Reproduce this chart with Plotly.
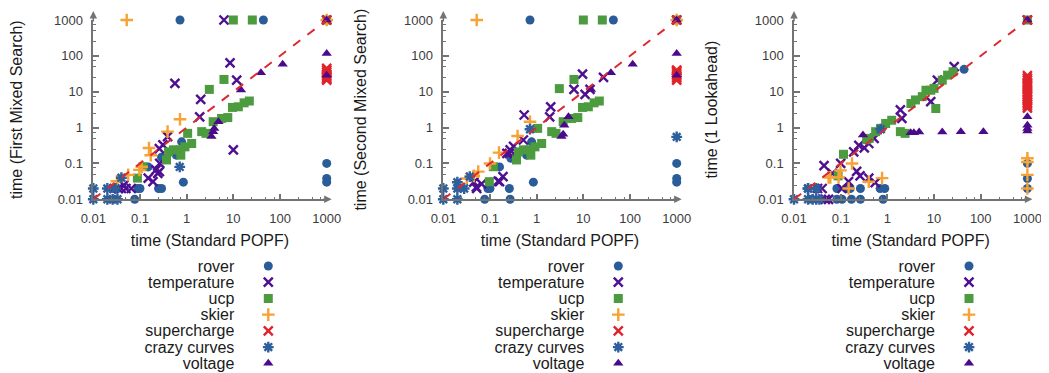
import plotly.graph_objects as go

# ---------------- data ----------------
categories = ["rover", "temperature", "ucp", "skier", "supercharge", "crazy curves", "voltage"]
y_titles = ["time (First Mixed Search)", "time (Second Mixed Search)", "time (1 Lookahead)"]
x_title = "time (Standard POPF)"
tick_vals = [0.01, 0.1, 1, 10, 100, 1000]
tick_text = ["0.01", "0.1", "1", "10", "100", "1000"]
minor_vals = [m * d for d in [0.01, 0.1, 1, 10, 100] for m in (2.5, 5, 7.5)]
diag = [0.01, 1000]

# Panel 1: First Mixed Search vs Standard POPF
p1_rover_x = [0.72, 44, 1000, 1000, 1000, 0.85, 0.077, 0.09, 0.1, 0.25, 0.29, 0.15, 0.6, 0.78, 0.29]
p1_rover_y = [1000, 1000, 0.1, 0.038, 0.03, 0.03, 0.01, 0.02, 0.02, 0.02, 0.02, 0.08, 0.17, 0.4, 0.15]
p1_temp_x = [6.3, 1000, 0.56, 8.5, 11.8, 2.0, 1.9, 10, 0.39, 0.31, 0.26, 0.26, 0.24, 0.22, 0.19, 0.15, 0.265, 0.034, 0.04, 0.05, 0.065, 0.045, 0.028]
p1_temp_y = [1000, 1000, 17, 64, 21, 6.1, 2.0, 0.24, 0.56, 0.33, 0.26, 0.059, 0.053, 0.066, 0.031, 0.039, 0.1, 0.02, 0.02, 0.02, 0.02, 0.025, 0.02]
p1_ucp_x = [10, 25.5, 1000, 6.3, 3.06, 22, 17, 12.8, 9.6, 7.6, 5.6, 3.7, 2.1, 2.6, 1.05, 1.28, 0.92, 0.72, 0.52, 0.41, 0.37, 0.75, 0.088, 0.116]
p1_ucp_y = [1000, 1000, 1000, 22, 11.6, 5.5, 4.9, 3.8, 3.65, 1.9, 1.8, 1.46, 0.77, 0.69, 0.69, 0.36, 0.29, 0.24, 0.24, 0.21, 0.125, 0.17, 0.039, 0.081]
p1_skier_x = [0.052, 0.72, 0.39, 0.156, 0.17, 0.109, 0.097, 0.056, 0.032, 1000]
p1_skier_y = [1000, 1.7, 0.77, 0.27, 0.17, 0.081, 0.066, 0.048, 0.032, 1000]
p1_super_x = [1000, 1000, 1000, 1000, 1000, 1000, 1000, 1000, 1000]
p1_super_y = [21, 23, 25, 28, 31, 35, 40, 45, 1000]
p1_crazy_x = [0.01, 0.01, 0.02, 0.02, 0.026, 0.033, 0.03, 0.04, 0.71]
p1_crazy_y = [0.01, 0.02, 0.01, 0.02, 0.01, 0.01, 0.02, 0.04, 0.08]
p1_volt_x = [1000, 1000, 1000, 114, 39, 14.6, 4.8, 3.9, 3.7, 3.4]
p1_volt_y = [1000, 117, 29, 58, 34, 11.1, 1.46, 0.95, 0.77, 0.56]

# Panel 2: Second Mixed Search vs Standard POPF
p2_rover_x = [0.72, 44, 1000, 1000, 1000, 0.85, 0.077, 0.09, 0.1, 0.26, 0.27, 0.16, 0.78, 0.61, 0.28]
p2_rover_y = [1000, 1000, 0.1, 0.038, 0.03, 0.03, 0.01, 0.02, 0.02, 0.02, 0.01, 0.08, 0.4, 0.17, 0.14]
p2_temp_x = [1000, 9.6, 6.3, 10.9, 13.9, 27, 2.0, 1.9, 0.54, 0.32, 0.27, 0.23, 0.52, 0.19, 0.15, 0.052, 0.066, 0.051, 0.16, 0.26, 0.045]
p2_temp_y = [1000, 31, 11.6, 8.4, 11.6, 25, 3.8, 2.0, 2.24, 0.3, 0.24, 0.19, 0.45, 0.043, 0.032, 0.02, 0.027, 0.022, 0.031, 0.19, 0.03]
p2_ucp_x = [10, 25.5, 1000, 6.3, 3.06, 22, 17, 12.8, 9.6, 7.6, 5.6, 3.7, 2.1, 2.6, 1.05, 1.28, 0.92, 0.72, 0.52, 0.41, 0.37, 0.75, 0.097, 0.118]
p2_ucp_y = [1000, 1000, 1000, 22, 12.2, 5.5, 4.9, 3.8, 3.65, 1.9, 1.8, 1.46, 0.77, 0.69, 0.95, 0.36, 0.29, 0.24, 0.24, 0.21, 0.125, 0.17, 0.031, 0.081]
p2_skier_x = [0.052, 0.72, 0.39, 0.156, 0.1, 0.056, 0.032, 0.045, 1000]
p2_skier_y = [1000, 1.46, 0.58, 0.2, 0.1, 0.059, 0.038, 0.045, 1000]
p2_super_x = [1000, 1000, 1000, 1000, 1000, 1000, 1000, 1000]
p2_super_y = [21, 24, 27, 30, 34, 38, 40, 1000]
p2_crazy_x = [0.01, 0.01, 0.02, 0.02, 0.02, 0.028, 0.037, 0.72, 1000]
p2_crazy_y = [0.01, 0.02, 0.01, 0.02, 0.03, 0.02, 0.043, 0.9, 0.55]
p2_volt_x = [1000, 1000, 1000, 114, 39, 14.6, 4.8, 3.9, 3.7, 3.4]
p2_volt_y = [1000, 117, 29, 58, 34, 11.6, 2.0, 1.17, 0.65, 0.56]

# Panel 3: 1 Lookahead vs Standard POPF
p3_rover_x = [44, 1000, 1000, 1000, 0.083, 0.107, 0.17, 0.265, 0.81, 0.083, 0.16, 0.265, 0.7, 0.88, 0.13]
p3_rover_y = [42, 0.1, 0.038, 0.02, 0.01, 0.01, 0.01, 0.01, 0.01, 0.02, 0.02, 0.02, 0.02, 0.02, 0.02]
p3_temp_x = [1000, 27, 11.8, 8.5, 1.9, 2.05, 0.52, 0.4, 0.32, 0.245, 0.19, 0.1, 0.044, 0.066, 0.22, 0.26, 0.4, 0.55, 0.147, 0.032, 0.047, 0.055, 0.107, 0.04]
p3_temp_y = [1000, 50, 21, 5.3, 3.1, 1.8, 0.5, 0.36, 0.27, 0.32, 0.21, 0.1, 0.087, 0.053, 0.06, 0.045, 0.039, 0.029, 0.031, 0.02, 0.01, 0.01, 0.02, 0.02]
p3_ucp_x = [1000, 25.5, 19.5, 15, 10, 8.5, 6.7, 5.6, 4.0, 3.2, 10.9, 1.24, 0.92, 0.72, 0.56, 0.41, 0.36, 1.9, 2.4, 0.115, 0.088]
p3_ucp_y = [1000, 36, 29, 21, 12.4, 11, 11, 7.3, 5.9, 4.7, 3.4, 1.6, 1.3, 0.95, 0.77, 0.5, 0.46, 0.77, 0.69, 0.18, 0.045]
p3_skier_x = [0.175, 0.099, 0.055, 0.06, 0.09, 0.148, 0.4, 0.77, 1000, 1000, 1000, 1000]
p3_skier_y = [0.1, 0.064, 0.041, 0.041, 0.041, 0.02, 0.031, 0.039, 0.14, 0.11, 0.048, 0.02]
p3_super_x = [1000] * 17
p3_super_y = [3.5, 4, 4.5, 5, 6, 7, 8, 9, 10, 12, 14, 16, 18, 21, 24, 28, 1000]
p3_crazy_x = [0.01, 0.02, 0.02, 0.025, 0.03, 0.035, 0.02, 0.03, 0.72]
p3_crazy_y = [0.01, 0.01, 0.02, 0.01, 0.01, 0.01, 0.02, 0.02, 0.9]
p3_volt_x = [1000, 1000, 1000, 1000, 1000, 0.3, 3.16, 3.7, 4.8, 15, 37.5, 114]
p3_volt_y = [1000, 2.0, 1.17, 0.95, 0.8, 0.62, 0.72, 0.72, 0.75, 0.75, 0.77, 0.77]

panels = [
    [(p1_rover_x, p1_rover_y), (p1_temp_x, p1_temp_y), (p1_ucp_x, p1_ucp_y), (p1_skier_x, p1_skier_y),
     (p1_super_x, p1_super_y), (p1_crazy_x, p1_crazy_y), (p1_volt_x, p1_volt_y)],
    [(p2_rover_x, p2_rover_y), (p2_temp_x, p2_temp_y), (p2_ucp_x, p2_ucp_y), (p2_skier_x, p2_skier_y),
     (p2_super_x, p2_super_y), (p2_crazy_x, p2_crazy_y), (p2_volt_x, p2_volt_y)],
    [(p3_rover_x, p3_rover_y), (p3_temp_x, p3_temp_y), (p3_ucp_x, p3_ucp_y), (p3_skier_x, p3_skier_y),
     (p3_super_x, p3_super_y), (p3_crazy_x, p3_crazy_y), (p3_volt_x, p3_volt_y)],
]

# ---------------- styles ----------------
styles = {
    "rover":        dict(symbol="circle",      color="#2a5c99", size=9,  lw=0),
    "temperature":  dict(symbol="x-thin",      color="#4f0f91", size=9,  lw=2.4),
    "ucp":          dict(symbol="square",      color="#4d9b3f", size=9,  lw=0),
    "skier":        dict(symbol="cross-thin",  color="#f7a234", size=9,  lw=2.4),
    "supercharge":  dict(symbol="x-thin",      color="#e0232b", size=9,  lw=2.4),
    "crazy curves": dict(symbol="asterisk",    color="#2d5f9c", size=9,  lw=2.4),
    "voltage":      dict(symbol="triangle-up", color="#4b0a8c", size=9,  lw=0),
}
AX = "#737373"
FONT = "Liberation Sans, Arial, sans-serif"

# page body has an 8px default margin: lay out in page pixels minus that offset
OFF = 8
W, H = 1049 - OFF, 373 - OFF
x_starts = [93.3 - OFF, 443.3 - OFF, 794.0 - OFF]
plot_w = 233.4
y_dom = [1 - (199.3 - OFF) / H, 1 - (20 - OFF) / H]
leg_dom = [1 - (371.4 - OFF) / H, 1 - (257.9 - OFF) / H]

fig = go.Figure()


def marker_of(st):
    return dict(symbol=st["symbol"], size=st["size"], color=st["color"],
                line=dict(color=st["color"], width=st["lw"]))


for i, series in enumerate(panels):
    n = i + 1
    xa = "x" if n == 1 else f"x{n}"
    ya = "y" if n == 1 else f"y{n}"
    for name, (xs, ys) in zip(categories, series):
        fig.add_trace(go.Scatter(x=xs, y=ys, mode="markers", name=name, showlegend=False,
                                 marker=marker_of(styles[name]), cliponaxis=False,
                                 xaxis=xa, yaxis=ya))
    fig.add_trace(go.Scatter(x=diag, y=diag, mode="lines", showlegend=False, hoverinfo="skip",
                             line=dict(color="#dd2a30", width=2, dash="dash"),
                             xaxis=xa, yaxis=ya))
    # legend panel (text left, marker right)
    lx = "x" + str(n + 3)
    ly = "y" + str(n + 3)
    for name in categories:
        fig.add_trace(go.Scatter(x=[0], y=[name], mode="markers", name=name, showlegend=False,
                                 marker=marker_of(styles[name]), xaxis=lx, yaxis=ly))

    x0 = x_starts[i]
    axis_common = dict(type="log", range=[-2, 3], showline=True, linecolor=AX, linewidth=1.5,
                       ticks="inside", ticklen=6, tickwidth=1.5, tickcolor=AX,
                       tickmode="array", tickvals=tick_vals, ticktext=tick_text,
                       minor=dict(ticks="inside", ticklen=3, tickwidth=1.2, tickcolor=AX,
                                  tickmode="array", tickvals=minor_vals),
                       showgrid=False, zeroline=False, mirror=False, automargin=False,
                       tickfont=dict(family=FONT, size=13, color="#3c3c3c"),
                       fixedrange=True)
    fig.layout[("xaxis" if n == 1 else f"xaxis{n}")] = dict(
        axis_common, domain=[x0 / W, (x0 + plot_w) / W], anchor=ya, ticklabelstandoff=6,
        title=dict(text=x_title, font=dict(family=FONT, size=16, color="#1a1a1a"), standoff=10))
    fig.layout[("yaxis" if n == 1 else f"yaxis{n}")] = dict(
        axis_common, domain=y_dom, anchor=xa, ticklabelstandoff=6,
        title=dict(text=y_titles[i], font=dict(family=FONT, size=16, color="#1a1a1a"), standoff=33))

    # legend axes
    lx0 = x0 + 144.0
    fig.layout[f"xaxis{n + 3}"] = dict(domain=[lx0 / W, (lx0 + 62) / W], range=[-1, 1], visible=False,
                                       anchor=ly, fixedrange=True, automargin=False)
    fig.layout[f"yaxis{n + 3}"] = dict(domain=leg_dom, anchor=lx,
                                       type="category", categoryorder="array", categoryarray=categories,
                                       tickmode="array", tickvals=categories, ticktext=categories,
                                       range=[6.5, -0.5], showline=False, ticks="", showgrid=False,
                                       zeroline=False, ticklabelstandoff=2, automargin=False,
                                       tickfont=dict(family=FONT, size=16, color="#1a1a1a"),
                                       fixedrange=True)

    # axis arrows
    fig.add_annotation(xref=f"{xa} domain", yref=f"{ya} domain", x=1 + 5 / plot_w, y=0,
                       ax=-10, ay=0, axref="pixel", ayref="pixel", text="", showarrow=True,
                       arrowhead=2, arrowsize=1, arrowwidth=1.5, arrowcolor=AX)
    fig.add_annotation(xref=f"{xa} domain", yref=f"{ya} domain", x=0, y=1 + 9 / 179.3,
                       ax=0, ay=12, axref="pixel", ayref="pixel", text="", showarrow=True,
                       arrowhead=2, arrowsize=1, arrowwidth=1.5, arrowcolor=AX)

fig.update_layout(width=W, height=H, margin=dict(l=0, r=0, t=0, b=0),
                  paper_bgcolor="white", plot_bgcolor="white",
                  font=dict(family=FONT, size=13, color="#1a1a1a"),
                  showlegend=False)

fig.write_html("out.html")
